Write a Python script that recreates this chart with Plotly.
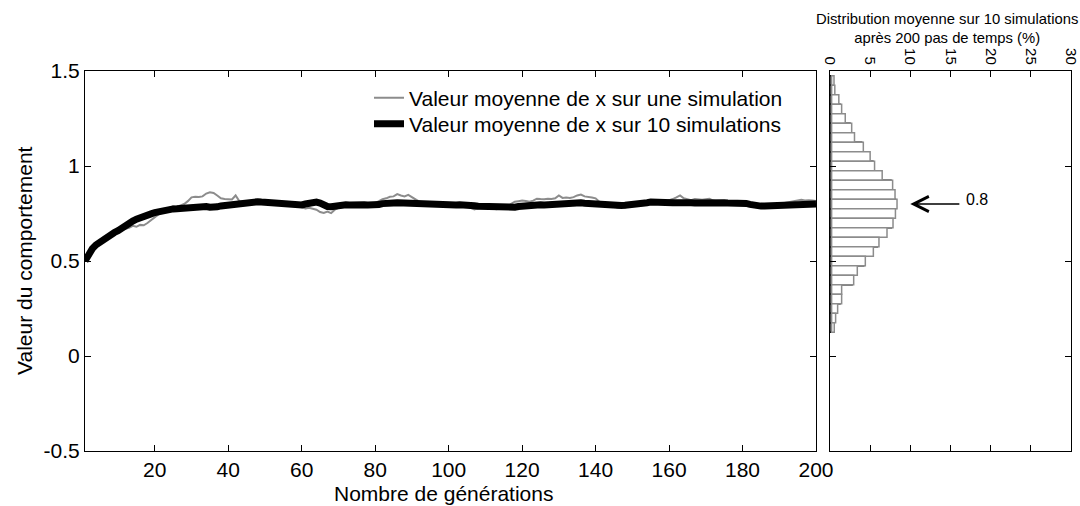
import plotly.graph_objects as go

generations = list(range(1, 201))

mean_10_sims = [
    0.500, 0.540, 0.565, 0.585, 0.600, 0.615, 0.625, 0.640, 0.650, 0.660,
    0.675, 0.690, 0.700, 0.710, 0.720, 0.725, 0.730, 0.740, 0.748, 0.755,
    0.760, 0.765, 0.768, 0.772, 0.774, 0.775, 0.777, 0.778, 0.780, 0.781,
    0.783, 0.785, 0.788, 0.787, 0.783, 0.780, 0.785, 0.790, 0.793, 0.795,
    0.797, 0.798, 0.800, 0.802, 0.805, 0.808, 0.810, 0.812, 0.810, 0.808,
    0.806, 0.805, 0.806, 0.804, 0.803, 0.804, 0.803, 0.800, 0.797, 0.795,
    0.800, 0.806, 0.810, 0.810, 0.805, 0.795, 0.787, 0.786, 0.790, 0.794,
    0.796, 0.796, 0.795, 0.797, 0.795, 0.794, 0.796, 0.795, 0.794, 0.795,
    0.797, 0.802, 0.806, 0.806, 0.805, 0.806, 0.805, 0.803, 0.806, 0.803,
    0.800, 0.798, 0.796, 0.797, 0.800, 0.802, 0.800, 0.797, 0.796, 0.797,
    0.797, 0.795, 0.796, 0.797, 0.795, 0.793, 0.791, 0.788, 0.787, 0.786,
    0.786, 0.784, 0.782, 0.780, 0.779, 0.778, 0.779, 0.783, 0.787, 0.790,
    0.792, 0.792, 0.794, 0.795, 0.796, 0.795, 0.797, 0.796, 0.798, 0.800,
    0.801, 0.803, 0.805, 0.806, 0.807, 0.806, 0.804, 0.802, 0.800, 0.797,
    0.796, 0.797, 0.796, 0.794, 0.793, 0.791, 0.792, 0.793, 0.794, 0.797,
    0.799, 0.801, 0.804, 0.807, 0.810, 0.811, 0.809, 0.808, 0.810, 0.809,
    0.807, 0.806, 0.808, 0.809, 0.807, 0.806, 0.805, 0.806, 0.808, 0.809,
    0.806, 0.803, 0.805, 0.807, 0.806, 0.805, 0.806, 0.807, 0.808, 0.806,
    0.803, 0.798, 0.793, 0.790, 0.789, 0.790, 0.791, 0.790, 0.792, 0.795,
    0.797, 0.797, 0.796, 0.798, 0.800, 0.801, 0.800, 0.799, 0.800, 0.800,
]

one_sim = [
    0.500, 0.540, 0.560, 0.585, 0.600, 0.615, 0.620, 0.635, 0.645, 0.655,
    0.665, 0.670, 0.675, 0.685, 0.680, 0.690, 0.688, 0.700, 0.715, 0.730,
    0.745, 0.755, 0.770, 0.780, 0.788, 0.785, 0.792, 0.800, 0.815, 0.835,
    0.838, 0.837, 0.840, 0.855, 0.862, 0.858, 0.845, 0.830, 0.826, 0.826,
    0.824, 0.845, 0.815, 0.812, 0.810, 0.806, 0.812, 0.810, 0.814, 0.808,
    0.806, 0.812, 0.815, 0.808, 0.802, 0.808, 0.800, 0.795, 0.790, 0.784,
    0.776, 0.780, 0.774, 0.770, 0.758, 0.753, 0.760, 0.752, 0.770, 0.780,
    0.785, 0.796, 0.800, 0.795, 0.798, 0.802, 0.800, 0.797, 0.800, 0.805,
    0.815, 0.825, 0.830, 0.838, 0.840, 0.852, 0.845, 0.840, 0.848, 0.835,
    0.825, 0.812, 0.806, 0.800, 0.798, 0.800, 0.796, 0.795, 0.798, 0.793,
    0.790, 0.794, 0.790, 0.785, 0.788, 0.780, 0.772, 0.778, 0.783, 0.780,
    0.785, 0.776, 0.773, 0.776, 0.780, 0.790, 0.800, 0.812, 0.815, 0.818,
    0.816, 0.812, 0.818, 0.828, 0.826, 0.825, 0.828, 0.826, 0.830, 0.845,
    0.832, 0.834, 0.832, 0.836, 0.845, 0.850, 0.840, 0.838, 0.834, 0.830,
    0.812, 0.800, 0.794, 0.792, 0.788, 0.780, 0.784, 0.782, 0.788, 0.794,
    0.795, 0.800, 0.806, 0.800, 0.812, 0.808, 0.804, 0.806, 0.812, 0.818,
    0.826, 0.835, 0.845, 0.830, 0.825, 0.820, 0.826, 0.824, 0.822, 0.825,
    0.828, 0.818, 0.812, 0.810, 0.808, 0.806, 0.810, 0.805, 0.803, 0.806,
    0.800, 0.796, 0.792, 0.788, 0.786, 0.788, 0.790, 0.792, 0.795, 0.800,
    0.804, 0.806, 0.810, 0.815, 0.820, 0.822, 0.818, 0.820, 0.818, 0.816,
]

bin_centers = [1.45, 1.40, 1.35, 1.30, 1.25, 1.20, 1.15, 1.10, 1.05, 1.00,
               0.95, 0.90, 0.85, 0.80, 0.75, 0.70, 0.65, 0.60, 0.55, 0.50,
               0.45, 0.40, 0.35, 0.30, 0.25, 0.20, 0.15]
distribution_pct = [0.3, 0.4, 0.9, 1.25, 1.7, 2.5, 2.85, 3.95, 4.8, 5.35,
                    6.3, 7.6, 7.9, 8.15, 7.95, 7.65, 6.9, 5.9, 5.2, 4.2,
                    3.2, 2.75, 1.25, 1.25, 0.75, 0.5, 0.33]

x_ticks = [20, 40, 60, 80, 100, 120, 140, 160, 180, 200]
y_ticks = [-0.5, 0, 0.5, 1, 1.5]
y_tick_labels = ["-0.5", "0", "0.5", "1", "1.5"]
hist_ticks = [0, 5, 10, 15, 20, 25, 30]

FONT = "Liberation Sans, Arial, sans-serif"
W, H = 1080, 506

def px(x):
    return x / W

def py(y):
    return 1 - y / H

fig = go.Figure()

fig.add_trace(go.Scatter(
    x=generations, y=one_sim, mode="lines",
    line=dict(color="#8c8c8c", width=2),
    name="Valeur moyenne de x sur une simulation",
    xaxis="x", yaxis="y", legend="legend",
))
fig.add_trace(go.Scatter(
    x=generations, y=mean_10_sims, mode="lines",
    line=dict(color="black", width=7),
    name="Valeur moyenne de x sur 10 simulations",
    xaxis="x", yaxis="y", legend="legend2",
))

# shadow histogram (slightly shifted axis)
fig.add_trace(go.Bar(
    x=distribution_pct, y=bin_centers, orientation="h", width=0.05,
    marker=dict(color="white", line=dict(color="#8c8c8c", width=1.5)),
    showlegend=False, xaxis="x3", yaxis="y2",
))
fig.add_trace(go.Bar(
    x=distribution_pct, y=bin_centers, orientation="h", width=0.05,
    marker=dict(color="rgba(255,255,255,0)", line=dict(color="black", width=1.5)),
    showlegend=False, xaxis="x2", yaxis="y2",
))

main_dom_x = [px(85), px(816)]
hist_dom_x = [px(830), px(1071)]
dom_y = [py(451), py(71)]

axis_common = dict(
    showline=True, linecolor="black", linewidth=1, mirror="ticks",
    ticks="inside", ticklen=6, tickcolor="black", tickwidth=1,
    showgrid=False, zeroline=False,
    tickfont=dict(family=FONT, size=21, color="black"),
)

legend_common = dict(
    xanchor="left", yanchor="middle",
    bgcolor="rgba(0,0,0,0)", borderwidth=0,
    font=dict(family=FONT, size=21, color="black"),
)

fig.update_layout(
    width=W, height=H,
    margin=dict(l=0, r=0, t=0, b=0),
    paper_bgcolor="white", plot_bgcolor="rgba(0,0,0,0)",
    barmode="overlay",
    showlegend=True,
    legend=dict(x=px(369), y=py(98), **legend_common),
    legend2=dict(x=px(369), y=py(124), **legend_common),
    xaxis=dict(domain=main_dom_x, range=[1, 200], tickvals=x_ticks,
               anchor="y", automargin=False, **axis_common),
    yaxis=dict(domain=dom_y, range=[-0.5, 1.5], tickvals=y_ticks,
               ticktext=y_tick_labels, anchor="x", automargin=False, **axis_common),
    xaxis2=dict(domain=hist_dom_x, range=[0, 30.02], tickvals=hist_ticks,
                side="top", tickangle=90, anchor="y2", automargin=False,
                **{**axis_common, "tickfont": dict(family=FONT, size=15, color="black")}),
    xaxis3=dict(domain=hist_dom_x, range=[-0.2, 29.82], overlaying="x2",
                visible=False, anchor="y2"),
    yaxis2=dict(domain=dom_y, range=[-0.5, 1.5], tickvals=y_ticks,
                showticklabels=False, anchor="x2", automargin=False, **axis_common),
)

annotations = [
    dict(text="Nombre de générations", x=px(443), y=py(493), xref="paper", yref="paper",
         xanchor="center", yanchor="middle",
         showarrow=False, font=dict(family=FONT, size=21, color="black")),
    dict(text="Valeur du comportement", x=px(24), y=py(261), xref="paper", yref="paper",
         xanchor="center", yanchor="middle",
         showarrow=False, textangle=-90, font=dict(family=FONT, size=21, color="black")),
    dict(text="Distribution moyenne sur 10 simulations<br>après 200 pas de temps (%)",
         x=px(947), y=py(28), xref="paper", yref="paper", showarrow=False,
         xanchor="center", yanchor="middle",
         font=dict(family=FONT, size=14.8, color="black")),
    dict(text="", x=10, y=0.8, ax=16.3, ay=0.8, xref="x2", yref="y2",
         axref="x2", ayref="y2", showarrow=True, arrowhead=5, arrowsize=2,
         arrowwidth=1.5, arrowcolor="black"),
    dict(text="0.8", x=16.7, y=0.826, xref="x2", yref="y2", showarrow=False,
         xanchor="left", yanchor="middle", font=dict(family=FONT, size=16, color="black")),
]
fig.update_layout(annotations=annotations)

fig.write_html("out.html", config={"displayModeBar": False},
               post_script="document.body.style.margin='0px';")
